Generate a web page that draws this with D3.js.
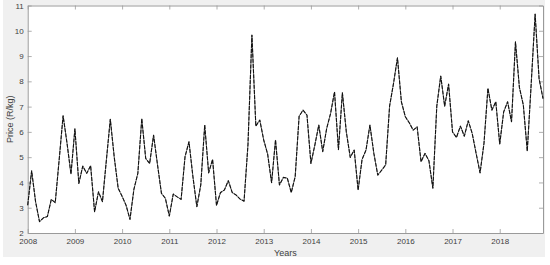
<!DOCTYPE html>
<html><head><meta charset="utf-8">
<script src="https://cdn.jsdelivr.net/npm/d3@7"></script>
<style>
html,body{margin:0;padding:0;background:#fff;}
svg{display:block;font-family:"Liberation Sans",Arial,sans-serif;}
</style></head>
<body>
<svg id="chart" width="550" height="265"></svg>
<script>
// Monthly prices Jan 2008 .. Dec 2018 (R/kg)
const startYear = 2008;
const prices = [
 3.10,4.46,3.24,2.45,2.60,2.65,3.33,3.20,4.90,6.64,5.55,4.33,
 6.12,3.96,4.65,4.36,4.66,2.84,3.63,3.24,4.88,6.50,5.00,3.77,
 3.45,3.10,2.54,3.73,4.36,6.52,4.95,4.75,5.87,4.70,3.57,3.37,
 2.67,3.54,3.43,3.33,5.02,5.61,4.23,3.04,3.90,6.27,4.38,4.91,
 3.09,3.60,3.70,4.07,3.60,3.50,3.34,3.26,5.50,9.83,6.23,6.47,
 5.68,5.12,3.99,5.68,3.90,4.20,4.17,3.60,4.23,6.62,6.86,6.66,
 4.75,5.48,6.27,5.22,6.13,6.73,7.58,5.30,7.55,6.00,4.99,5.28,
 3.70,4.91,5.28,6.27,5.15,4.29,4.49,4.69,7.02,7.92,8.93,7.19,
 6.60,6.36,6.07,6.20,4.82,5.15,4.86,3.77,7.02,8.21,7.02,7.89,
 6.00,5.78,6.23,5.83,6.44,5.94,5.15,4.38,5.55,7.72,6.86,7.19,
 5.52,6.79,7.19,6.40,9.56,7.76,7.06,5.24,7.90,10.66,8.11,7.32
];
const xTicks = [2008,2009,2010,2011,2012,2013,2014,2015,2016,2017,2018];
const yTicks = [2,3,4,5,6,7,8,9,10,11];
const xLabel = "Years";
const yLabel = "Price (R/kg)";

const data = prices.map((v,i)=>({t:startYear + i/12, v}));

const svg = d3.select("#chart");
const W = 550, H = 265;
const m = {left:27.7, right:7, top:5.5, bottom:32};
const x0 = m.left, x1 = 543, y0 = 233, y1 = 5.5;

// figure background
svg.append("rect").attr("x",3).attr("y",0).attr("width",542).attr("height",257).attr("fill","#f0f0f0");

const x = d3.scaleLinear().domain([startYear, startYear + (prices.length-1)/12]).range([x0, x1]);
const y = d3.scaleLinear().domain([2,11]).range([y0, y1]);

// axes area
svg.append("rect").attr("x",x0).attr("y",y1).attr("width",x1-x0).attr("height",y0-y1).attr("fill","#fff");

const tickColor = "#262626";
const axColor = "#9a9a9a";
const tickLen = 4;

// Bottom axis
const gb = svg.append("g").attr("transform",`translate(0,${y0})`)
  .call(d3.axisBottom(x).tickValues(xTicks).tickFormat(d3.format("d")).tickSizeInner(-tickLen).tickSizeOuter(0).tickPadding(5));
// Top axis
const gt = svg.append("g").attr("transform",`translate(0,${y1})`)
  .call(d3.axisTop(x).tickValues(xTicks).tickFormat("").tickSizeInner(-tickLen).tickSizeOuter(0));
// Left axis
const gl = svg.append("g").attr("transform",`translate(${x0},0)`)
  .call(d3.axisLeft(y).tickValues(yTicks).tickFormat(d3.format("d")).tickSizeInner(-tickLen).tickSizeOuter(0).tickPadding(4));
// Right axis
const gr = svg.append("g").attr("transform",`translate(${x1},0)`)
  .call(d3.axisRight(y).tickValues(yTicks).tickFormat("").tickSizeInner(-tickLen).tickSizeOuter(0));

[gb,gt,gl,gr].forEach(g=>{
  g.select(".domain").attr("stroke",axColor).attr("stroke-width",1);
  g.selectAll(".tick line").attr("stroke",axColor).attr("stroke-width",0.8);
  g.selectAll(".tick text").attr("fill","#404040").attr("font-size","8px")
   .attr("font-family","\"Liberation Sans\",Arial,sans-serif");
});

// line
const line = d3.line().x(d=>x(d.t)).y(d=>y(d.v));
svg.append("path").datum(data).attr("d",line)
  .attr("fill","none").attr("stroke","#555").attr("stroke-width",0.8);
svg.append("path").datum(data).attr("d",line)
  .attr("fill","none").attr("stroke","#111").attr("stroke-width",1.1)
  .attr("stroke-dasharray","4,1.2").attr("stroke-linejoin","round");

// labels
svg.append("text").attr("x",(x0+x1)/2).attr("y",256).attr("text-anchor","middle")
  .attr("font-size","9px").attr("fill","#404040").text(xLabel);
svg.append("text").attr("transform",`translate(12.5,${(y0+y1)/2}) rotate(-90)`)
  .attr("text-anchor","middle").attr("font-size","9px").attr("fill","#404040").text(yLabel);
</script>
</body></html>
